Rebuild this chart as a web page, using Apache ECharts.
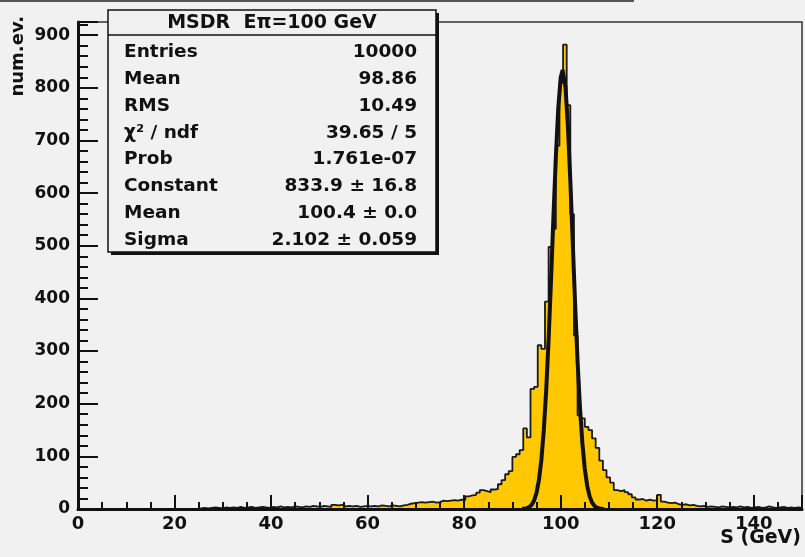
<!DOCTYPE html>
<html><head><meta charset="utf-8">
<script src="https://cdn.jsdelivr.net/npm/echarts@6/dist/echarts.min.js"></script>
<style>html,body{margin:0;padding:0;background:#f1f1f1}#c{width:805px;height:557px}</style>
</head><body><div id="c"></div>
<script>
// ---- data ----
const binLow = 0;          // GeV, left edge of first bin
const binWidth = 0.75;     // GeV
const binCounts = [
  0,0,0,0,0,0,0,0,0,0, 0,0,0,0,0,0,0,0,0,0,
  0,0,0,0,0,0,0,0,0,0, 0,0,0,1,2,1,2,3,2,1,
  3,2,3,2,4,2,3,4,2,3, 4,3,2,4,3,5,3,4,3,5,
  4,3,5,4,6,5,4,6,5,4, 8,7,8,5,6,5,6,4,5,6,
  5,6,5,7,6,5,7,6,5,7, 8,10,11,12,13,12,13,14,12,13,
  16,15,16,17,16,18,17,24,26,27, 31,36,34,32,37,38,47,55,66,72,
  99,104,112,153,136,228,232,311,304,394, 498,532,690,810,882,767,560,330,178,172,
  156,150,134,116,92,74,60,50,36,34, 36,32,28,22,18,19,16,18,16,17,
  27,14,12,11,12,9,8,9,7,8, 6,5,6,4,5,4,3,5,4,3,
  4,3,5,3,4,2,3,4,2,3, 5,3,2,3,4,2,3,2,3,2
];
// Gaussian fit curve
const fitX = [92,92.5,93,93.5,94,94.5,95,95.5,96,96.5,97,97.5,98,98.5,99,99.5,100,100.4,100.5,101,101.5,102,102.5,103,103.5,104,104.5,105,105.5,106,106.5,107,107.5,108,108.5,109];
const fitY = [0.3,0.7,1.7,3.8,8.1,16.2,30.8,55.1,93.2,149.2,225.4,322.0,434.6,554.3,668.0,760.9,819.0,833.9,832.9,800.6,727.2,624.2,506.3,388.0,281.1,192.4,124.4,76.1,43.9,24.0,12.4,6.0,2.8,1.2,0.5,0.2];
const xRange = [0, 150];
const yRange = [0, 925];
const statsTitle = 'MSDR  E\u03c0=100 GeV';
const statLabels = ['Entries','Mean','RMS','\u03c7\u00b2 / ndf','Prob','Constant','Mean','Sigma'];
const statValues = ['10000','98.86','10.49','39.65 / 5','1.761e-07','833.9 \u00b1 16.8','100.4 \u00b1 0.0','2.102 \u00b1 0.059'];
const xAxisTitle = 'S (GeV)';
const yAxisTitle = 'num.ev.';

// ---- build ----
const histData = binCounts.map((v, i) => [binLow + i * binWidth, v]);
histData.push([binLow + binCounts.length * binWidth, binCounts[binCounts.length - 1]]);
const fitData = fitX.map((x, i) => [x, fitY[i]]);

const BG = '#f1f1f1';
const FF = "'DejaVu Sans', sans-serif";
const INK = '#111';

function txt(text, x, y, size, align, extra) {
  return Object.assign({
    type: 'text', x: x, y: y, z: 110,
    style: { text: text, font: 'bold ' + size + 'px ' + FF, fill: INK,
      align: align, textAlign: align, verticalAlign: 'middle', textVerticalAlign: 'middle' }
  }, extra || {});
}

const rowY = [52, 79, 106, 133, 159.5, 186.5, 213, 240];
const graphics = [
  { type: 'line', z: 100, shape: { x1: 0, y1: 1, x2: 634, y2: 1 }, style: { stroke: '#555', lineWidth: 2 } },
  { type: 'rect', z: 100, shape: { x: 111, y: 13, width: 328, height: 242 }, style: { fill: INK } },
  { type: 'rect', z: 101, shape: { x: 108, y: 10, width: 328, height: 242 }, style: { fill: BG, stroke: INK, lineWidth: 1.5 } },
  { type: 'line', z: 102, shape: { x1: 108, y1: 35, x2: 436, y2: 35 }, style: { stroke: INK, lineWidth: 1.5 } },
  txt(statsTitle, 272, 23, 19, 'center'),
  txt(yAxisTitle, 18.5, 16, 18, 'right', { rotation: Math.PI / 2 }),
  txt(xAxisTitle, 801, 538, 19, 'right')
];
statLabels.forEach((l, i) => {
  graphics.push(txt(l, 124, rowY[i], 18.5, 'left'));
  graphics.push(txt(statValues[i], 417, rowY[i], 18.5, 'right'));
});

const chart = echarts.init(document.getElementById('c'), null, { renderer: 'canvas' });
chart.setOption({
  animation: false,
  backgroundColor: BG,
  grid: { left: 78, right: 3, top: 22, bottom: 48, show: true, borderColor: '#333', borderWidth: 1.5,
          backgroundColor: 'transparent', containLabel: false, outerBoundsMode: 'none' },
  xAxis: {
    type: 'value', min: xRange[0], max: xRange[1], interval: 20, z: 10,
    axisLine: { show: true, onZero: false, lineStyle: { color: INK, width: 3 } },
    axisTick: { show: true, inside: true, length: 14, lineStyle: { color: INK, width: 2 } },
    minorTick: { show: true, splitNumber: 4, length: 7, lineStyle: { color: INK, width: 2 } },
    splitLine: { show: false },
    axisLabel: { fontFamily: FF, fontWeight: 'bold', fontSize: 18, color: INK, margin: 6, showMaxLabel: false }
  },
  yAxis: {
    type: 'value', min: yRange[0], max: yRange[1], interval: 100, z: 10,
    axisLine: { show: true, onZero: false, lineStyle: { color: INK, width: 3 } },
    axisTick: { show: true, inside: true, length: 20, lineStyle: { color: INK, width: 2 } },
    minorTick: { show: true, splitNumber: 5, length: 10, lineStyle: { color: INK, width: 2 } },
    splitLine: { show: false },
    axisLabel: { fontFamily: FF, fontWeight: 'bold', fontSize: 17, color: INK, margin: 8, showMaxLabel: false }
  },
  series: [
    {
      type: 'line', name: 'histogram', data: histData, step: 'end', showSymbol: false, symbol: 'none',
      lineStyle: { color: '#1a1a1a', width: 1.8 },
      areaStyle: { color: '#ffc800', opacity: 1, origin: 'start' },
      z: 2
    },
    {
      type: 'line', name: 'gaus fit', data: fitData, showSymbol: false, symbol: 'none', smooth: false,
      lineStyle: { color: INK, width: 4 },
      z: 3
    }
  ],
  graphic: graphics
});
</script>
</body></html>
